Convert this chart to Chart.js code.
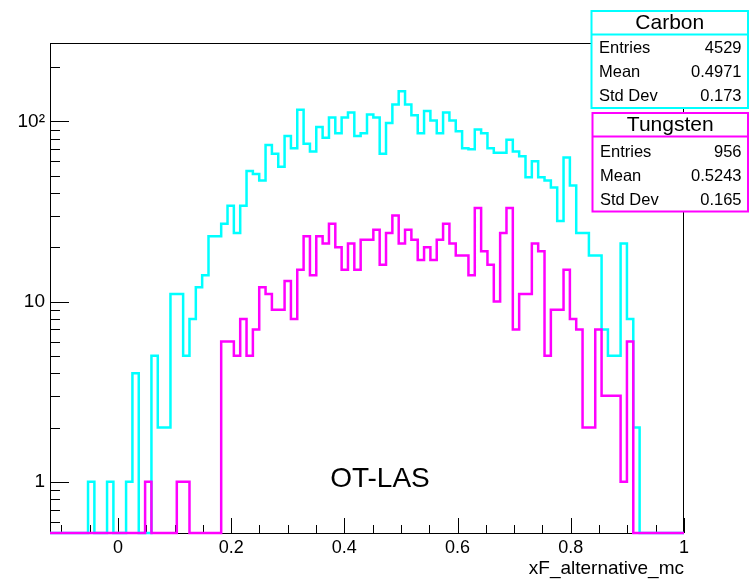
<!DOCTYPE html>
<html>
<head>
<meta charset="utf-8">
<title>xF_alternative_mc</title>
<script src="https://cdn.jsdelivr.net/npm/chart.js@4.4.1/dist/chart.umd.min.js"></script>
<style>
  html, body { margin: 0; padding: 0; background: #fff; }
  #wrap { width: 751px; height: 581px; }
</style>
</head>
<body>
<div id="wrap"><canvas id="xfChart" width="751" height="581"></canvas></div>
<script>
// 100 bins of xF between -0.12 and 1.0, log y
var xMin = -0.12;
var xMax = 1.0;
var yMin = 0.52;
var yMax = 272;

var carbonCounts = [
  0, 0, 0, 0, 0, 0, 1, 0, 0, 1,
  0, 0, 1, 4, 0, 0, 5, 2, 2, 11,
  11, 5, 8, 12, 14, 23, 23, 27, 34, 24,
  34, 53, 51, 47, 74, 66, 56, 83, 71, 116,
  75, 68, 93, 81, 105, 86, 105, 112, 83, 86,
  109, 105, 66, 98, 124, 147, 124, 108, 86, 114,
  101, 86, 112, 101, 88, 71, 70, 90, 86, 71,
  67, 67, 79, 68, 64, 49, 60, 49, 47, 43,
  28, 63, 44, 24, 24, 18, 18, 7, 5, 5,
  21, 8, 2, 0, 0, 0, 0, 0, 0, 0
];

var tungstenCounts = [
  0, 0, 0, 0, 0, 0, 0, 0, 0, 0,
  0, 0, 0, 0, 0, 1, 0, 0, 0, 0,
  1, 1, 0, 0, 0, 0, 0, 6, 6, 5,
  8, 5, 7, 12, 11, 9, 9, 13, 8, 15,
  23, 14, 23, 21, 27, 20, 15, 21, 15, 22,
  22, 25, 16, 24, 30, 21, 25, 22, 17, 20,
  17, 22, 27, 21, 18, 18, 14, 33, 19, 16,
  10, 24, 33, 7, 11, 11, 21, 19, 5, 9,
  9, 15, 8, 7, 2, 2, 7, 3, 3, 3,
  1, 6, 0, 0, 0, 0, 0, 0, 0, 0
];

var xTicks = [0, 0.2, 0.4, 0.6, 0.8, 1];
var xTickLabels = ['0', '0.2', '0.4', '0.6', '0.8', '1'];
var yTicks = [1, 10, 100];
var yTickLabels = ['1', '10', '10\u00b2'];

var statRows = ['Entries', 'Mean', 'Std Dev'];
var carbonStats = ['4529', '0.4971', '0.173'];
var tungstenStats = ['956', '0.5243', '0.165'];

var FONT = '"Liberation Sans", Arial, Helvetica, sans-serif';

// bin low edges + closing edge, drawn as a step line
function histPoints(counts) {
  var w = (xMax - xMin) / counts.length;
  var pts = counts.map(function(c, i) {
    // empty bins run along the bottom of the frame
    return { x: xMin + i * w, y: c > 0 ? c : yMin };
  });
  pts.push({ x: xMax, y: pts[pts.length - 1].y });
  return pts;
}

// frame and inward ticks, drawn under the histograms
var rootFrame = {
  id: 'rootFrame',
  beforeDatasetsDraw: function(chart) {
    var ctx = chart.ctx, a = chart.chartArea;
    var xs = chart.scales.x, ys = chart.scales.y;
    ctx.save();
    ctx.strokeStyle = '#000';
    ctx.lineWidth = 1;
    ctx.strokeRect(a.left + 0.5, a.top + 0.5, a.right - a.left - 1, a.bottom - a.top);
    ctx.beginPath();
    for (var k = -4; k <= 20; k++) {
      var v = k * 0.05;
      if (v < xMin || v > xMax) continue;
      var px = Math.round(xs.getPixelForValue(v)) + 0.5;
      var len = (k % 4 === 0) ? 15 : 8;
      ctx.moveTo(px, a.bottom);
      ctx.lineTo(px, a.bottom - len);
    }
    [0.1, 1, 10, 100].forEach(function(d) {
      for (var m = 1; m <= 9; m++) {
        var v = m * d;
        if (v < yMin || v > yMax) continue;
        var py = Math.round(ys.getPixelForValue(v)) + 0.5;
        var len = (m === 1) ? 19 : 10;
        ctx.moveTo(a.left, py);
        ctx.lineTo(a.left + len, py);
      }
    });
    ctx.stroke();
    ctx.restore();
  },
  afterDraw: function(chart) {
    var ctx = chart.ctx;
    drawStatBox(ctx, 591.5, 11, 748, 108, 37.5, '#00ffff', 'Carbon', carbonStats);
    drawStatBox(ctx, 592.5, 113, 748, 211.5, 39, '#ff00ff', 'Tungsten', tungstenStats);

    ctx.save();
    ctx.fillStyle = '#000';
    ctx.font = '28px ' + FONT;
    ctx.textAlign = 'center';
    ctx.textBaseline = 'middle';
    ctx.fillText('OT-LAS', 380, 479);
    ctx.restore();
  }
};

function drawStatBox(ctx, x0, y0, x1, y1, rowTop, color, title, values) {
  ctx.save();
  ctx.fillStyle = '#fff';
  ctx.fillRect(x0, y0, x1 - x0, y1 - y0);
  ctx.strokeStyle = color;
  ctx.lineWidth = 2;
  ctx.strokeRect(x0, y0, x1 - x0, y1 - y0);
  ctx.beginPath();
  ctx.moveTo(x0, y0 + 23.5);
  ctx.lineTo(x1, y0 + 23.5);
  ctx.stroke();

  ctx.fillStyle = '#000';
  ctx.textBaseline = 'middle';
  ctx.textAlign = 'center';
  ctx.font = '21px ' + FONT;
  ctx.fillText(title, (x0 + x1) / 2, y0 + 12.5);

  ctx.font = '16.5px ' + FONT;
  for (var i = 0; i < statRows.length; i++) {
    var ty = y0 + rowTop + i * 24;
    ctx.textAlign = 'left';
    ctx.fillText(statRows[i], x0 + 7.5, ty);
    ctx.textAlign = 'right';
    ctx.fillText(values[i], x1 - 6.5, ty);
  }
  ctx.restore();
}

var xfChart = new Chart(document.getElementById('xfChart'), {
  type: 'line',
  data: {
    datasets: [{
      label: 'Carbon',
      data: histPoints(carbonCounts),
      borderColor: '#00ffff',
      borderWidth: 2.5,
      stepped: true,
      pointRadius: 0,
      fill: false,
      borderJoinStyle: 'miter',
      clip: false,
      order: 1
    }, {
      label: 'Tungsten',
      data: histPoints(tungstenCounts),
      borderColor: '#ff00ff',
      borderWidth: 2.5,
      stepped: true,
      pointRadius: 0,
      fill: false,
      borderJoinStyle: 'miter',
      clip: false,
      order: 0
    }]
  },
  options: {
    responsive: false,
    animation: false,
    devicePixelRatio: 1,
    layout: { padding: { left: 0, right: 67, top: 43, bottom: 0 } },
    plugins: {
      legend: { display: false },
      tooltip: { enabled: false }
    },
    scales: {
      x: {
        type: 'linear',
        min: xMin,
        max: xMax,
        grid: { display: false, drawTicks: false },
        border: { display: false },
        afterBuildTicks: function(scale) {
          scale.ticks = xTicks.map(function(v) { return { value: v }; });
        },
        afterFit: function(scale) { scale.height = 48; },
        ticks: {
          autoSkip: false,
          maxRotation: 0,
          padding: 4,
          color: '#000',
          font: { family: FONT, size: 18 },
          callback: function(value, index) { return xTickLabels[index]; }
        },
        title: {
          display: true,
          text: 'xF_alternative_mc',
          align: 'end',
          color: '#000',
          font: { family: FONT, size: 19 },
          padding: { top: 0, bottom: 1 }
        }
      },
      y: {
        type: 'logarithmic',
        min: yMin,
        max: yMax,
        grid: { display: false, drawTicks: false },
        border: { display: false },
        afterBuildTicks: function(scale) {
          scale.ticks = yTicks.map(function(v) { return { value: v }; });
        },
        afterFit: function(scale) { scale.width = 50; },
        ticks: {
          autoSkip: false,
          padding: 5,
          color: '#000',
          font: { family: FONT, size: 19 },
          callback: function(value, index) { return yTickLabels[index]; }
        }
      }
    }
  },
  plugins: [rootFrame]
});
</script>
</body>
</html>
